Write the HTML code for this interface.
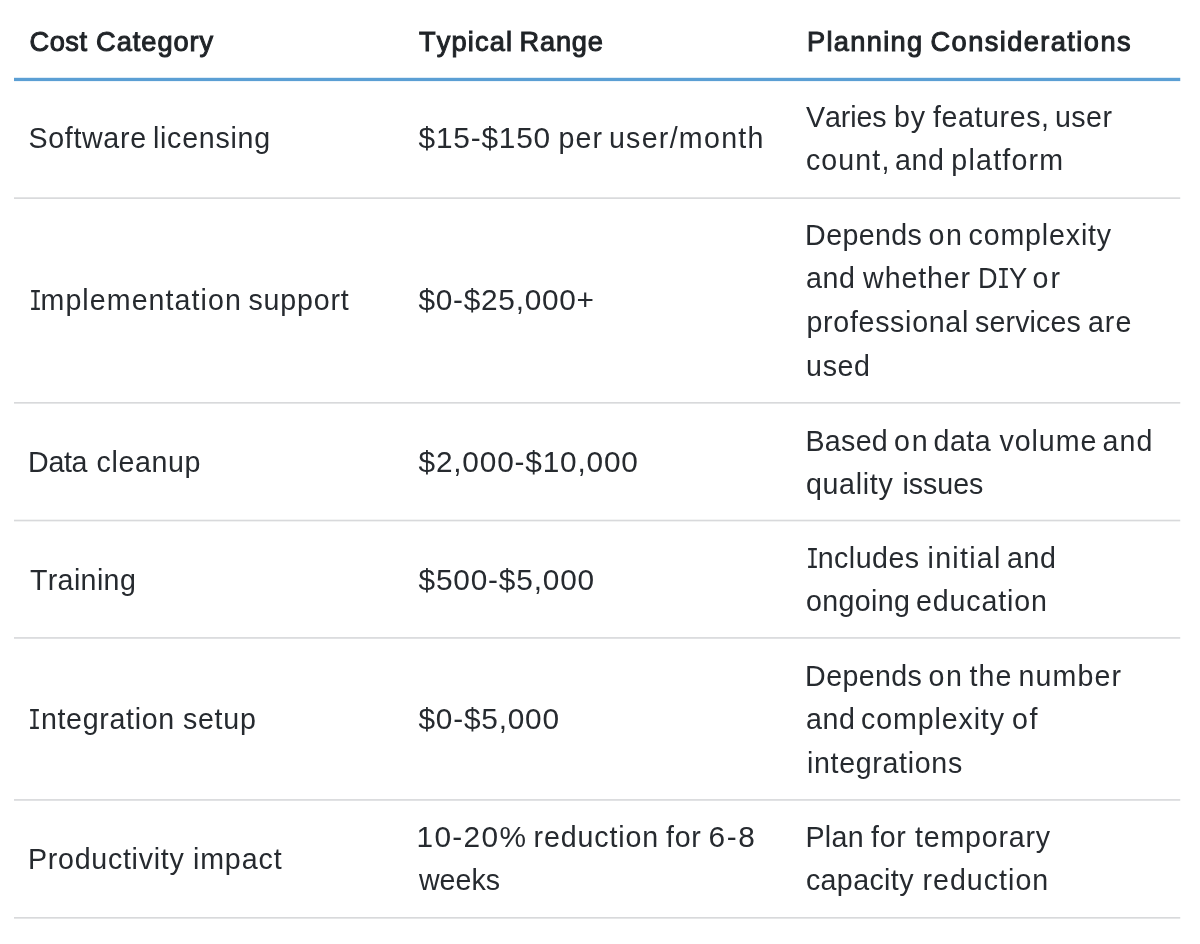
<!DOCTYPE html>
<html lang="en">
<head>
<meta charset="utf-8">
<title>Implementation cost planning table</title>
<style>
html,body{margin:0;padding:0;background:#fff;}
body{width:1200px;height:944px;position:relative;overflow:hidden;font-family:"Liberation Sans",Arial,sans-serif;}
.r{position:absolute;left:0;height:40px;line-height:40px;white-space:pre;color:#262a2f;font-size:28.6px;font-kerning:none;}
.r.h{font-weight:400;-webkit-text-stroke:1.0px #1f2327;color:#1f2327;font-size:27.2px;}
.r span{position:absolute;top:0;}
.r span.n{font-size:29.8px;line-height:39px;}
.r span.i{font-family:"DejaVu Sans Mono","Liberation Mono",monospace;font-size:27px;top:1px;transform-origin:0 50%;transform:scaleX(0.8);}
svg{position:absolute;left:0;top:0;}
</style>
</head>
<body>
<svg aria-hidden="true" width="1200" height="944" viewBox="0 0 1200 944">
<rect x="14.00" y="77.80" width="1166.25" height="3.30" fill="#5b9fd4"/>
<rect x="14.00" y="197.30" width="1166.25" height="1.65" fill="#d8d9db"/>
<rect x="14.00" y="402.00" width="1166.25" height="1.65" fill="#d8d9db"/>
<rect x="14.00" y="519.70" width="1166.25" height="1.65" fill="#d8d9db"/>
<rect x="14.00" y="637.10" width="1166.25" height="1.65" fill="#d8d9db"/>
<rect x="14.00" y="799.10" width="1166.25" height="1.65" fill="#d8d9db"/>
<rect x="14.00" y="917.00" width="1166.25" height="1.65" fill="#d8d9db"/>
</svg>
<div role="table" aria-label="Implementation cost planning">
<div role="row">
<div role="columnheader">
<div class="r h" style="top:22px"><span style="left:29.50px;letter-spacing:0.533px">Cost </span><span style="left:96.10px;letter-spacing:0.971px">Category</span></div>
</div>
<div role="columnheader">
<div class="r h" style="top:22px"><span style="left:418.90px;letter-spacing:1.183px">Typical </span><span style="left:519.50px;letter-spacing:0.825px">Range</span></div>
</div>
<div role="columnheader">
<div class="r h" style="top:22px"><span style="left:806.90px;letter-spacing:1.357px">Planning </span><span style="left:930.50px;letter-spacing:1.438px">Considerations</span></div>
</div>
</div>
<div role="row">
<div role="cell">
<div class="r" style="top:118px"><span style="left:28.50px;letter-spacing:0.671px">Software </span><span style="left:152.90px;letter-spacing:0.750px">licensing</span></div>
</div>
<div role="cell">
<div class="r" style="top:118px"><span class="n" style="left:418.50px;letter-spacing:0.814px">$15-$150 </span><span style="left:558.50px;letter-spacing:1.150px">per </span><span style="left:608.90px;letter-spacing:1.278px">user/month</span></div>
</div>
<div role="cell">
<div class="r" style="top:97px"><span style="left:806.10px;letter-spacing:-0.140px">Varies </span><span style="left:894.10px;letter-spacing:0.800px">by </span><span style="left:932.90px;letter-spacing:0.613px">features, </span><span style="left:1054.90px;letter-spacing:0.500px">user </span></div>
<div class="r" style="top:140px"><span style="left:805.90px;letter-spacing:1.120px">count, </span><span style="left:895.10px;letter-spacing:0.550px">and </span><span style="left:951.30px;letter-spacing:1.229px">platform</span></div>
</div>
</div>
<div role="row">
<div role="cell">
<div class="r" style="top:280px"><span class="i" style="left:28.70px">I</span><span style="left:40.50px;letter-spacing:1.067px">mplementation </span><span style="left:248.50px;letter-spacing:0.800px">support</span></div>
</div>
<div role="cell">
<div class="r" style="top:280px"><span class="n" style="left:418.50px;letter-spacing:0.730px">$0-$25,000+</span></div>
</div>
<div role="cell">
<div class="r" style="top:215px"><span style="left:805.10px;letter-spacing:0.383px">Depends </span><span style="left:928.50px;letter-spacing:1.700px">on </span><span style="left:968.50px;letter-spacing:0.844px">complexity </span></div>
<div class="r" style="top:258px"><span style="left:805.90px;letter-spacing:0.600px">and </span><span style="left:863.10px;letter-spacing:0.883px">whether </span><span class="n" style="left:978.10px;letter-spacing:0.500px;transform-origin:0 50%;transform:scaleX(0.91)">D</span><span class="i" style="left:996.50px">I</span><span class="n" style="left:1008.50px;letter-spacing:0.500px;transform-origin:0 50%;transform:scaleX(0.92)">Y </span><span style="left:1032.50px;letter-spacing:2.000px">or </span></div>
<div class="r" style="top:302px"><span style="left:806.50px;letter-spacing:0.691px">professional </span><span style="left:975.10px;letter-spacing:0.114px">services </span><span style="left:1087.90px;letter-spacing:1.050px">are </span></div>
<div class="r" style="top:346px"><span style="left:806.10px;letter-spacing:0.633px">used</span></div>
</div>
</div>
<div role="row">
<div role="cell">
<div class="r" style="top:442px"><span style="left:28.10px;letter-spacing:-0.367px">Data </span><span style="left:96.50px;letter-spacing:0.617px">cleanup</span></div>
</div>
<div role="cell">
<div class="r" style="top:442px"><span class="n" style="left:418.50px;letter-spacing:0.815px">$2,000-$10,000</span></div>
</div>
<div role="cell">
<div class="r" style="top:421px"><span style="left:805.50px;letter-spacing:0.300px">Based </span><span style="left:894.10px;letter-spacing:1.700px">on </span><span style="left:933.50px;letter-spacing:0.533px">data </span><span style="left:999.50px;letter-spacing:0.940px">volume </span><span style="left:1102.50px;letter-spacing:1.050px">and </span></div>
<div class="r" style="top:464px"><span style="left:805.90px;letter-spacing:0.700px">quality </span><span style="left:902.50px;letter-spacing:-0.040px">issues</span></div>
</div>
</div>
<div role="row">
<div role="cell">
<div class="r" style="top:560px"><span style="left:29.90px;letter-spacing:0.371px">Training</span></div>
</div>
<div role="cell">
<div class="r" style="top:560px"><span class="n" style="left:418.50px;letter-spacing:0.830px">$500-$5,000</span></div>
</div>
<div role="cell">
<div class="r" style="top:538px"><span class="i" style="left:805.50px">I</span><span style="left:817.70px;letter-spacing:0.483px">ncludes </span><span style="left:927.50px;letter-spacing:1.283px">initial </span><span style="left:1006.90px;letter-spacing:0.600px">and </span></div>
<div class="r" style="top:581px"><span style="left:805.90px;letter-spacing:0.367px">ongoing </span><span style="left:915.90px;letter-spacing:0.887px">education</span></div>
</div>
</div>
<div role="row">
<div role="cell">
<div class="r" style="top:699px"><span class="i" style="left:28.30px">I</span><span style="left:40.90px;letter-spacing:0.689px">ntegration </span><span style="left:182.90px;letter-spacing:0.750px">setup</span></div>
</div>
<div role="cell">
<div class="r" style="top:699px"><span class="n" style="left:418.50px;letter-spacing:0.787px">$0-$5,000</span></div>
</div>
<div role="cell">
<div class="r" style="top:656px"><span style="left:805.10px;letter-spacing:0.383px">Depends </span><span style="left:928.50px;letter-spacing:1.700px">on </span><span style="left:969.50px;letter-spacing:1.050px">the </span><span style="left:1018.50px;letter-spacing:1.120px">number </span></div>
<div class="r" style="top:699px"><span style="left:805.90px;letter-spacing:0.600px">and </span><span style="left:861.10px;letter-spacing:0.867px">complexity </span><span style="left:1011.90px;letter-spacing:1.700px">of </span></div>
<div class="r" style="top:743px"><span style="left:806.90px;letter-spacing:0.682px">integrations</span></div>
</div>
</div>
<div role="row">
<div role="cell">
<div class="r" style="top:839px"><span style="left:28.10px;letter-spacing:0.709px">Productivity </span><span style="left:192.90px;letter-spacing:0.900px">impact</span></div>
</div>
<div role="cell">
<div class="r" style="top:817px"><span class="n" style="left:416.50px;letter-spacing:1.340px">10-20% </span><span style="left:533.50px;letter-spacing:0.888px">reduction </span><span style="left:666.10px;letter-spacing:0.600px">for </span><span class="n" style="left:708.50px;letter-spacing:1.600px">6-8 </span></div>
<div class="r" style="top:860px"><span style="left:418.90px;letter-spacing:0.025px">weeks</span></div>
</div>
<div role="cell">
<div class="r" style="top:817px"><span style="left:805.50px;letter-spacing:0.267px">Plan </span><span style="left:871.10px;letter-spacing:0.650px">for </span><span style="left:915.10px;letter-spacing:0.787px">temporary </span></div>
<div class="r" style="top:860px"><span style="left:805.90px;letter-spacing:0.386px">capacity </span><span style="left:922.50px;letter-spacing:1.012px">reduction</span></div>
</div>
</div>
</div>
</body>
</html>
